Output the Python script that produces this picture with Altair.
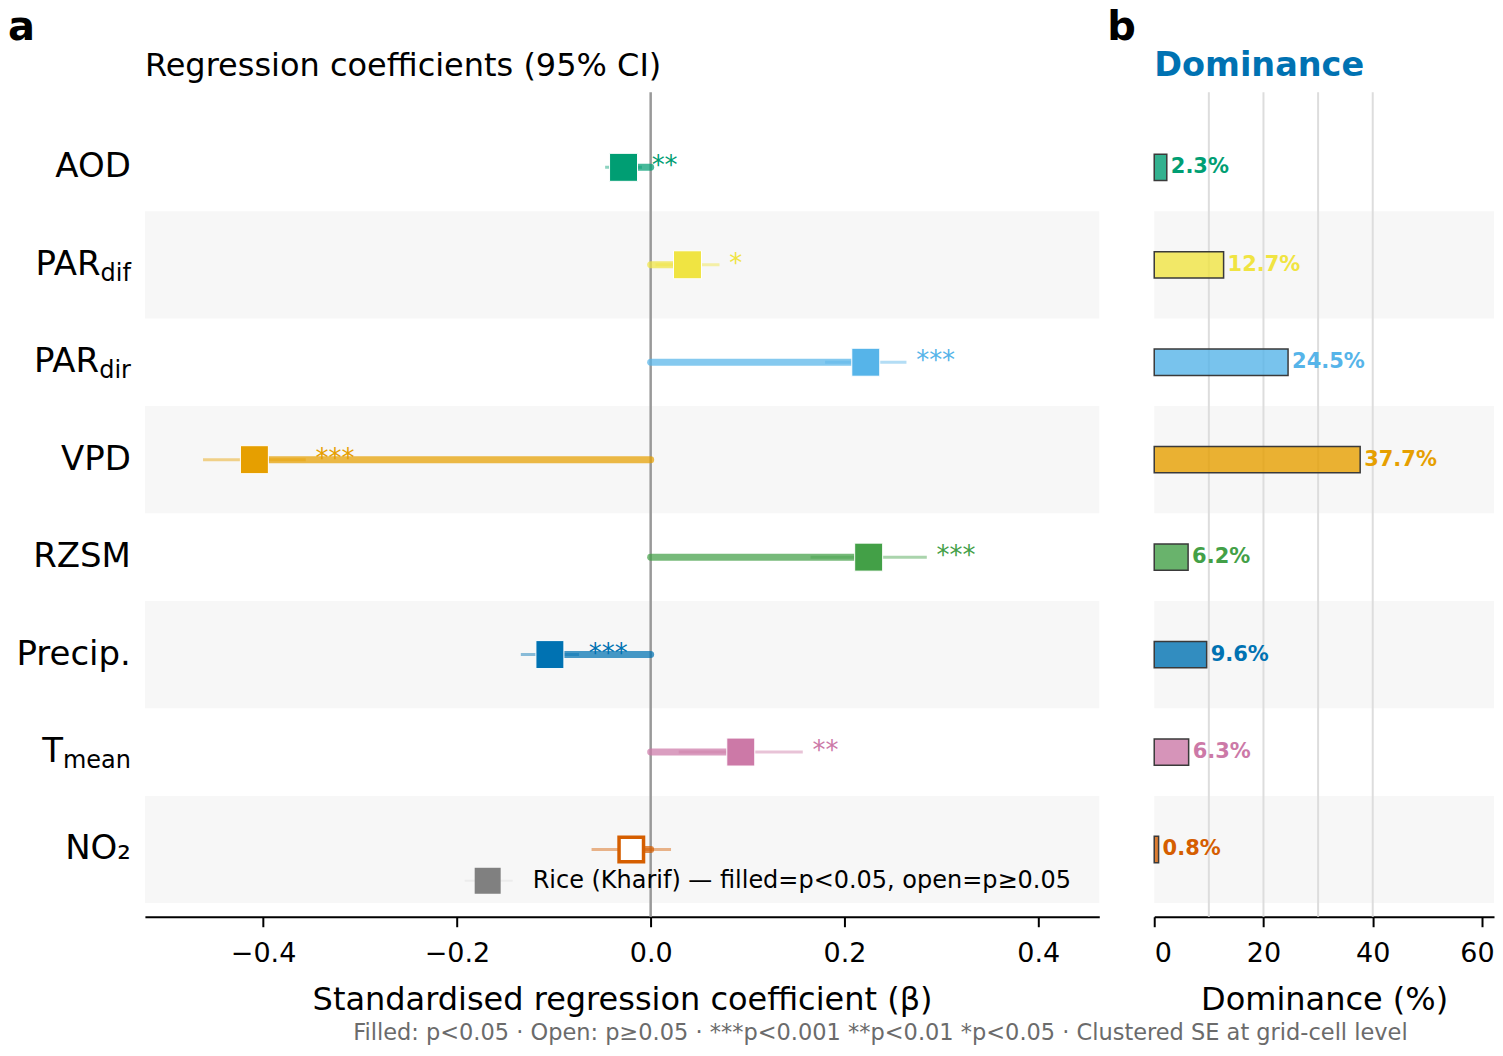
import altair as alt
import pandas as pd

# ---------------- data ----------------
variables = ["AOD", "PARdif", "PARdir", "VPD", "RZSM", "Precip.", "Tmean", "NO2"]
label_main = ["AOD", "PAR", "PAR", "VPD", "RZSM", "Precip.", "T", "NO₂"]
label_sub = ["", "dif", "dir", "", "", "", "mean", ""]
coef = [-0.028, 0.038, 0.222, -0.409, 0.225, -0.104, 0.093, -0.020]
ci_low = [-0.047, 0.005, 0.180, -0.462, 0.165, -0.134, 0.029, -0.061]
ci_high = [-0.009, 0.071, 0.264, -0.356, 0.285, -0.074, 0.157, 0.021]
stars = ["**", "*", "***", "***", "***", "***", "**", ""]
significant = [True, True, True, True, True, True, True, False]
dominance = [2.3, 12.7, 24.5, 37.7, 6.2, 9.6, 6.3, 0.8]
colors = ["#009E73", "#F0E442", "#56B4E9", "#E69F00", "#43A047", "#0072B2", "#CC79A7", "#D55E00"]
dominance_grid = [10, 20, 30, 40]
ticks_a = [-0.4, -0.2, 0.0, 0.2, 0.4]
ticks_b = [0, 20, 40, 60]
legend_label = "Rice (Kharif) — filled=p<0.05, open=p≥0.05"
footnote = ("Filled: p<0.05  ·  Open: p≥0.05  ·  ***p<0.001  **p<0.01  *p<0.05  ·  "
            "Clustered SE at grid-cell level")

# ---------------- layout ----------------
FONT = "DejaVu Sans"
WA, WB, H = 955, 340, 825
LABEL_FS, SUB_FS = 34, 24
SUB_W = {"d": .635, "i": .278, "f": .352, "r": .411, "m": .974, "e": .615, "a": .613, "n": .634}

df = pd.DataFrame({
    "idx": list(range(len(variables))),
    "var": variables,
    "coef": coef, "lo": ci_low, "hi": ci_high,
    "stars": stars, "sig": significant, "dom": dominance,
    "main": label_main, "sub": label_sub,
})
df["zero"] = 0.0
df["star_x"] = df["hi"] + 0.01
df["dom_label"] = df["dom"].map(lambda v: f"{v:.1f}%")
df["y0"] = df["idx"] - 0.55
df["y1"] = df["idx"] + 0.55
df["b0"] = df["idx"] - 0.135
df["b1"] = df["idx"] + 0.135

shade_df = df[df["idx"] % 2 == 1]

yscale = alt.Scale(domain=[-0.77, 7.69], reverse=True, nice=False, zero=False)
var_scale = alt.Scale(domain=variables, range=colors)
color = alt.Color("var:N", scale=var_scale, legend=None)

axis_a = alt.Axis(values=ticks_a, labelExpr="replace(format(datum.value, '.1f'), '-', '\u2212')",
                  grid=False, domainColor="black", domainWidth=2, tickColor="black",
                  tickWidth=2, tickSize=10, labelFontSize=27, labelPadding=14, labelColor="black",
                  titleFontSize=32, titleFontWeight="normal", titleColor="black", titlePadding=18)
xscale_a = alt.Scale(domain=[-0.522, 0.463], nice=False, zero=False)
X_TITLE_A = "Standardised regression coefficient (β)"


def xa(field):
    return alt.X(field, type="quantitative", scale=xscale_a, axis=axis_a, title=X_TITLE_A)


def Y(f):
    return alt.Y(f, type="quantitative", scale=yscale, axis=None)


shade_a = alt.Chart(shade_df).mark_rect(color="#f7f7f7").encode(
    x=alt.value(0), x2=alt.value(WA), y=Y("y0"), y2="y1")

zero_rule = alt.Chart(pd.DataFrame({"z": [0.0]})).mark_rule(
    color="#999999", strokeWidth=2.5).encode(x=xa("z"))

stem = alt.Chart(df).mark_rule(strokeWidth=7, opacity=0.72, strokeCap="round").encode(
    x=xa("coef"), x2="zero", y=Y("idx"), color=color)

ci = alt.Chart(df).mark_rule(strokeWidth=3, opacity=0.45).encode(
    x=xa("lo"), x2="hi", y=Y("idx"), color=color)

sq_filled = alt.Chart(df[df["sig"]]).mark_square(
    size=784, opacity=1, filled=True, stroke="white", strokeWidth=1).encode(
    x=xa("coef"), y=Y("idx"), color=color)

sq_open = alt.Chart(df[~df["sig"]]).mark_square(
    size=600, opacity=1, fill="white", strokeWidth=3.5, filled=False).encode(
    x=xa("coef"), y=Y("idx"), stroke=alt.Stroke("var:N", scale=var_scale, legend=None))

star_text = alt.Chart(df[df["stars"] != ""]).mark_text(
    align="left", baseline="middle", fontSize=26, dy=-1, font=FONT).encode(
    x=xa("star_x"), y=Y("idx"), text="stars:N", color=color)

# y labels (main text + subscript)
label_layers = []
plain = df[df["sub"] == ""]
label_layers.append(alt.Chart(plain).mark_text(
    align="right", baseline="middle", fontSize=LABEL_FS, font=FONT, color="black").encode(
    x=alt.value(-14), y=Y("idx"), text="main:N"))
for _, r in df[df["sub"] != ""].iterrows():
    w = sum(SUB_W[c] for c in r["sub"]) * SUB_FS
    one = df[df["idx"] == r["idx"]]
    label_layers.append(alt.Chart(one).mark_text(
        align="right", baseline="middle", fontSize=LABEL_FS, font=FONT, color="black").encode(
        x=alt.value(-14 - w), y=Y("idx"), text="main:N"))
    label_layers.append(alt.Chart(one).mark_text(
        align="right", baseline="middle", fontSize=SUB_FS, font=FONT, color="black", dy=9).encode(
        x=alt.value(-14), y=Y("idx"), text="sub:N"))

one_row = pd.DataFrame({"t": [legend_label]})
leg_line = alt.Chart(one_row).mark_rule(color="#ececec", strokeWidth=2).encode(
    x=alt.value(320), x2=alt.value(368), y=alt.value(789))
leg_sq = alt.Chart(one_row).mark_square(size=676, color="#808080", opacity=1).encode(
    x=alt.value(343), y=alt.value(789))
leg_txt = alt.Chart(one_row).mark_text(
    align="left", baseline="middle", fontSize=24, font=FONT, color="black").encode(
    x=alt.value(388), y=alt.value(789), text="t:N")

title_a = alt.Chart(pd.DataFrame({"t": ["Regression coefficients (95% CI)"]})).mark_text(
    align="left", baseline="middle", fontSize=32, font=FONT, color="black").encode(
    x=alt.value(0), y=alt.value(-26), text="t:N")
letter_a = alt.Chart(pd.DataFrame({"t": ["a"]})).mark_text(
    align="left", baseline="alphabetic", fontSize=40, fontWeight="bold", font=FONT, color="black").encode(
    x=alt.value(-137), y=alt.value(-52), text="t:N")
letter_b = alt.Chart(pd.DataFrame({"t": ["b"]})).mark_text(
    align="left", baseline="alphabetic", fontSize=40, fontWeight="bold", font=FONT, color="black").encode(
    x=alt.value(963), y=alt.value(-52), text="t:N")
foot = alt.Chart(pd.DataFrame({"t": [footnote]})).mark_text(
    align="center", baseline="middle", fontSize=22.5, font=FONT, color="#6b6b6b").encode(
    x=alt.value(736), y=alt.value(941), text="t:N")

panel_a = alt.layer(shade_a, zero_rule, stem, ci, sq_filled, sq_open, star_text,
                    *label_layers, leg_line, leg_sq, leg_txt, title_a, letter_a, letter_b, foot
                    ).properties(width=WA, height=H)

# ---------------- panel b ----------------
axis_b = alt.Axis(values=ticks_b, format="d", grid=False, domainColor="black", domainWidth=2,
                  tickColor="black", tickWidth=2, tickSize=10, labelFontSize=27, labelPadding=14,
                  labelOffset={"condition": {"test": "datum.value == 60", "value": -5}, "value": 0},
                  labelColor="black", titleFontSize=32, titleFontWeight="normal",
                  titleColor="black", titlePadding=18)
xscale_b = alt.Scale(domain=[0, 62.2], nice=False, zero=False)
X_TITLE_B = "Dominance (%)"


def xb(field):
    return alt.X(field, type="quantitative", scale=xscale_b, axis=axis_b, title=X_TITLE_B)


shade_b = alt.Chart(shade_df).mark_rect(color="#f7f7f7").encode(
    x=alt.value(0), x2=alt.value(WB), y=Y("y0"), y2="y1")
grid_b = alt.Chart(pd.DataFrame({"g": dominance_grid})).mark_rule(
    color="#dddddd", strokeWidth=2).encode(x=xb("g"))
bars = alt.Chart(df).mark_rect(fillOpacity=0.8, stroke="#3a3a3a", strokeWidth=1.5).encode(
    x=xb("zero"), x2="dom", y=Y("b0"), y2="b1",
    fill=alt.Fill("var:N", scale=var_scale, legend=None))
bar_txt = alt.Chart(df).mark_text(
    align="left", baseline="middle", fontSize=21, fontWeight="bold", font=FONT, dx=4).encode(
    x=xb("dom"), y=Y("idx"), text="dom_label:N", color=color)
title_b = alt.Chart(pd.DataFrame({"t": ["Dominance"]})).mark_text(
    align="left", baseline="middle", fontSize=33.5, fontWeight="bold", font=FONT, color="#0072B2").encode(
    x=alt.value(0), y=alt.value(-26), text="t:N")

panel_b = alt.layer(shade_b, grid_b, bars, bar_txt, title_b).properties(width=WB, height=H)

chart = alt.hconcat(panel_a, panel_b, spacing=55, bounds="flush").properties(
    padding={"left": 0, "top": 0, "right": 0, "bottom": 0}
).configure(font=FONT).configure_view(stroke=None, strokeWidth=0)

chart.save("out.html", embed_options={"renderer": "svg", "actions": False})
